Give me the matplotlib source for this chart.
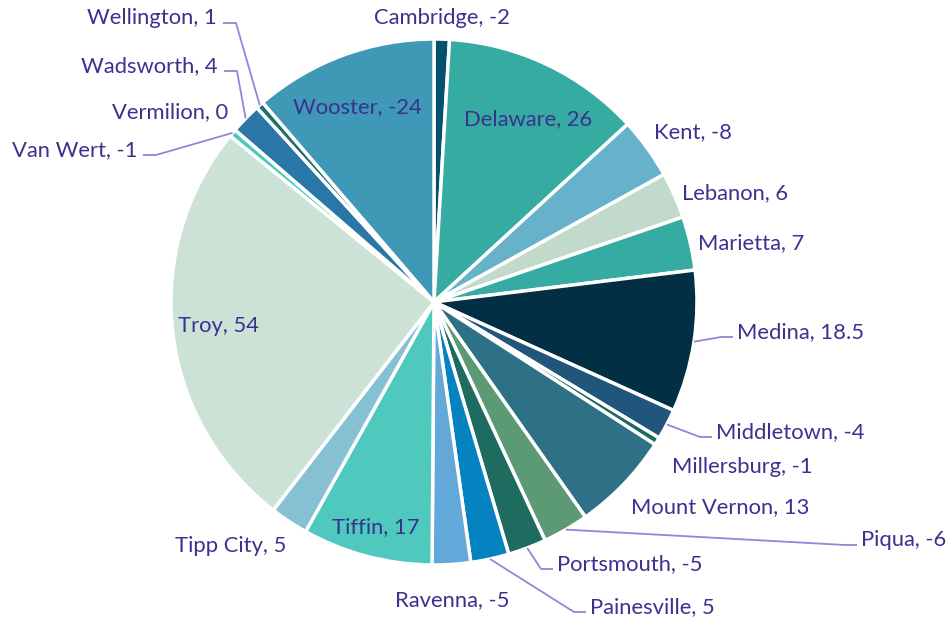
import matplotlib
matplotlib.use('Agg')
import matplotlib.pyplot as plt
import math

# data (signed values, slice size uses magnitude)
cities = ['Cambridge', 'Delaware', 'Kent', 'Lebanon', 'Marietta', 'Medina',
          'Middletown', 'Millersburg', 'Mount Vernon', 'Piqua', 'Portsmouth',
          'Painesville', 'Ravenna', 'Tiffin', 'Tipp City', 'Troy', 'Van Wert',
          'Vermilion', 'Wadsworth', 'Wellington', 'Wooster']
values = [-2, 26, -8, 6, 7, 18.5, -4, -1, 13, -6, -5, 5, -5, 17, 5, 54, -1, 0, 4, 1, -24]

colors = ['#03506f', '#35aba1', '#67b2ca', '#c2dacc', '#35aba1', '#032f45',
          '#20567b', '#1c6b5c', '#2e7186', '#5c9975', '#1e6b60', '#0582c0',
          '#62a9d9', '#4fc8be', '#86c0d3', '#cce2d6', '#4fc8be', '#03506f',
          '#2a76a6', '#1e7068', '#3f99b6']

TEXT = '#3a3290'
LEAD = '#9385d8'

# label placement in image pixels: (anchor x, center y, ha, leader?)
label_pos = {
    'Cambridge':    (442, 18, 'center', False),
    'Delaware':     (528, 119, 'center', False),
    'Kent':         (654, 132, 'left', False),
    'Lebanon':      (682, 193, 'left', False),
    'Marietta':     (698, 243, 'left', False),
    'Medina':       (737, 332, 'left', True),
    'Middletown':   (716, 432, 'left', True),
    'Millersburg':  (672, 467, 'left', False),
    'Mount Vernon': (631, 507, 'left', False),
    'Piqua':        (861, 540, 'left', True),
    'Portsmouth':   (557, 564, 'left', True),
    'Painesville':  (590, 607, 'left', True),
    'Ravenna':      (395, 600, 'left', False),
    'Tiffin':       (376, 527, 'center', False),
    'Tipp City':    (175, 546, 'left', False),
    'Troy':         (219, 326, 'center', False),
    'Van Wert':     (137, 150, 'right', True),
    'Vermilion':    (228, 112, 'right', False),
    'Wadsworth':    (218, 66, 'right', True),
    'Wellington':   (217, 18, 'right', True),
    'Wooster':      (357, 107, 'center', False),
}

W, H = 951, 624
CX, CY, R = 434, 302, 263


def px(x, y):
    return (x - CX) / R, (CY - y) / R


plt.rcParams['font.family'] = ['Lato', 'DejaVu Sans']

fig = plt.figure(figsize=(W / 100, H / 100), dpi=100)
ax = fig.add_axes([0, 0, 1, 1])
ax.axis('off')

wedges, _ = ax.pie([abs(v) for v in values], colors=colors, startangle=90,
                   counterclock=False, radius=1.0,
                   wedgeprops=dict(edgecolor='white', linewidth=2.5))
ax.set_xlim(-CX / R, (W - CX) / R)
ax.set_ylim((CY - H) / R, CY / R)
ax.set_aspect('auto')

for w, name, v in zip(wedges, cities, values):
    lx, ly, ha, lead = label_pos[name]
    ax.text(*px(lx, ly), f'{name}, {v:g}', ha=ha, va='center',
            fontsize=15.8, color=TEXT)
    if lead:
        # leader: short horizontal stub next to the text, then to the slice
        mid = math.radians((w.theta1 + w.theta2) / 2)
        ex, ey = math.cos(mid), math.sin(mid)
        if ha == 'left':
            hx0, hx1 = lx - 4, lx - 16
        else:
            hx0, hx1 = lx + 6, lx + 19
        _, hy = px(0, ly + 5)
        x0, _ = px(hx0, 0)
        x1, _ = px(hx1, 0)
        ax.plot([x0, x1, ex], [hy, hy, ey], color=LEAD, lw=1.3,
                solid_capstyle='butt')

fig.savefig('out.png', dpi=100, facecolor='white')
